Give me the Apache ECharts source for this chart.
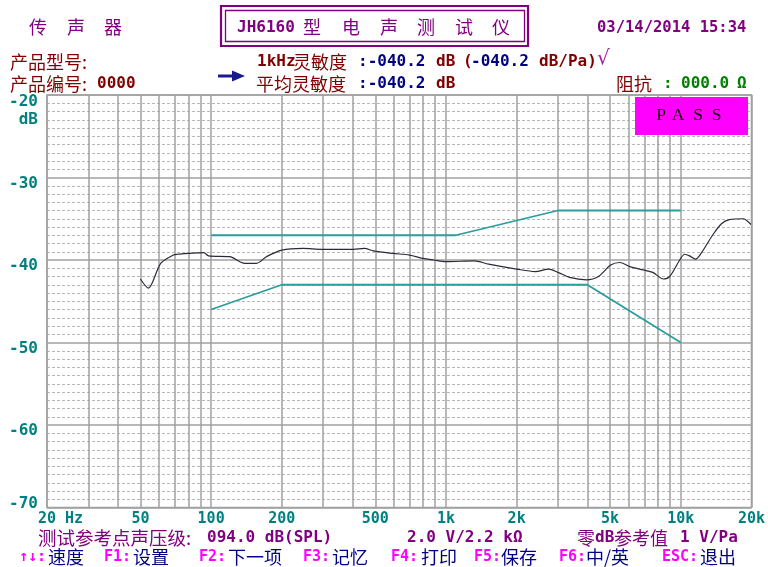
<!DOCTYPE html>
<html><head><meta charset="utf-8">
<script src="https://cdn.jsdelivr.net/npm/echarts@6/dist/echarts.min.js"></script>
<style>html,body{margin:0;padding:0;background:#fff}#c{width:768px;height:567px}</style>
</head><body><div id="c"></div>
<script>
// Measured response (Hz, dB)
const measFreq = [50, 54, 61, 69, 72, 80, 93, 97.5, 120, 139, 156, 172, 200, 246, 297, 331, 403, 450, 491, 594, 700, 796, 887, 1000, 1320, 1520, 2000, 2400, 2740, 3000, 3360, 3960, 4460, 5030, 5500, 6070, 6920, 7600, 8420, 8970, 9900, 10400, 10900, 11550, 12200, 13650, 14900, 16100, 18400, 19900];
const measDb = [-42.3, -43.4, -40.4, -39.4, -39.3, -39.2, -39.1, -39.5, -39.6, -40.4, -40.4, -39.6, -38.8, -38.6, -38.7, -38.7, -38.7, -38.6, -38.9, -39.2, -39.4, -39.8, -40.0, -40.2, -40.1, -40.5, -41.1, -41.4, -41.1, -41.5, -42.1, -42.4, -42.0, -40.6, -40.3, -40.8, -41.2, -41.5, -42.3, -42.0, -40.0, -39.3, -39.5, -39.9, -39.2, -37.0, -35.6, -35.1, -35.0, -35.7];
// Tolerance limits
const upperFreq = [100, 1100, 3000, 10000];
const upperDb = [-37, -37, -34, -34];
const lowerFreq = [100, 200, 4000, 10000];
const lowerDb = [-46, -43, -43, -50];
// Axes
const gridFreqs = [20,30,40,50,60,70,80,90,100,200,300,400,500,600,700,800,900,1000,2000,3000,4000,5000,6000,7000,8000,9000,10000,20000];
const xLabelVals = [20, 50, 100, 200, 500, 1000, 2000, 5000, 10000, 20000];
const xLabelText = ['20 Hz', '50', '100', '200', '500', '1k', '2k', '5k', '10k', '20k'];
const yLabelVals = [-70, -60, -50, -40, -30, -20];
const yLabelText = ['-70', '-60', '-50', '-40', '-30', '-20'];

const MONO = '"DejaVu Sans Mono", "Noto Sans CJK SC", monospace';
const CJK = '"Noto Sans CJK SC", "DejaVu Sans", sans-serif';
const PURPLE = '#800080', DRED = '#800000', NAVY = '#000080', GREEN = '#008000', TEAL = '#008080', MAG = '#ff00ff';
const B16 = 'bold 16px ' + MONO, B15 = 'bold 15px ' + MONO, C18 = '18px ' + CJK;

function txt(x, y, s, color, font, align) {
  return {type: 'text', x: x, y: y, z: 100, style: {text: s, fill: color, font: font, textAlign: align || 'left', textVerticalAlign: 'middle'}};
}

const g = [];
// Row 1
g.push(txt(29, 27.5, '传', PURPLE, C18), txt(67, 27.5, '声', PURPLE, C18), txt(104, 27.5, '器', PURPLE, C18));
g.push({type: 'rect', z: 100, shape: {x: 221, y: 6, width: 307, height: 40}, style: {fill: null, stroke: PURPLE, lineWidth: 2.2}});
g.push({type: 'rect', z: 100, shape: {x: 225.5, y: 10.5, width: 299, height: 31}, style: {fill: null, stroke: PURPLE, lineWidth: 1.3}});
g.push(txt(237, 27.5, 'JH6160', PURPLE, B16));
[['型', 303], ['电', 342], ['声', 380], ['测', 417], ['试', 455], ['仪', 492]].forEach(a => g.push(txt(a[1], 27.5, a[0], PURPLE, C18)));
g.push(txt(597, 27.5, '03/14/2014 15:34', PURPLE, 'bold 15.5px ' + MONO));
// Row 2
g.push(txt(10, 62, '产品型号:', DRED, C18));
g.push(txt(257, 62, '1kHz', DRED, B16), txt(293, 62, '灵敏度', DRED, C18));
g.push(txt(358, 62, ':-040.2', NAVY, B16), txt(436, 62, 'dB', DRED, B16));
g.push(txt(463, 62, '(', DRED, B16), txt(471, 62, '-040.2', NAVY, B16), txt(539, 62, 'dB/Pa)', DRED, B16));
g.push(txt(597, 59, '√', '#a020a0', '20px "DejaVu Sans"'));
// Row 3
g.push(txt(10, 84, '产品编号:', DRED, C18), txt(97, 84, '0000', DRED, B16));
g.push({type: 'rect', z: 100, shape: {x: 218, y: 74.5, width: 15, height: 3}, style: {fill: '#1a1a8a'}});
g.push({type: 'polygon', z: 100, shape: {points: [[232, 70.5], [245, 76], [232, 81.5]]}, style: {fill: '#1a1a8a'}});
g.push(txt(256, 84, '平均灵敏度', DRED, C18));
g.push(txt(358, 84, ':-040.2', NAVY, B16), txt(436, 84, 'dB', DRED, B16));
g.push(txt(616, 84, '阻抗', DRED, C18), txt(663, 84, ':', GREEN, B16), txt(681, 84, '000.0', GREEN, B16), txt(737, 84, 'Ω', GREEN, B16));
// PASS box
g.push({type: 'rect', z: 100, shape: {x: 635, y: 97, width: 113, height: 38}, style: {fill: MAG}});
[['P', 661], ['A', 678], ['S', 698], ['S', 716.5]].forEach(a => g.push(txt(a[1], 115, a[0], '#000', '17.5px "Liberation Serif"', 'center')));
// y unit
g.push(txt(38, 120, 'dB', TEAL, B16, 'right'));
// Bottom row 1
g.push(txt(38, 538, '测试参考点声压级:', PURPLE, '18.5px ' + CJK));
g.push(txt(207, 538, '094.0 dB(SPL)', PURPLE, B16));
g.push(txt(407, 538, '2.0 V/2.2 kΩ', PURPLE, B16));
g.push(txt(577, 538, '零', PURPLE, C18), txt(595, 538, 'dB', PURPLE, B16), txt(614, 538, '参考值', PURPLE, C18), txt(680, 538, '1 V/Pa', PURPLE, B16));
// Bottom row 2
[['↑↓:', 19, '速度', 48], ['F1:', 104, '设置', 133], ['F2:', 199, '下一项', 228], ['F3:', 303, '记忆', 332],
 ['F4:', 391, '打印', 421], ['F5:', 474, '保存', 501], ['F6:', 559, '中/英', 586], ['ESC:', 662, '退出', 700]].forEach(a => {
  g.push(txt(a[1], 557, a[0], MAG, B15), txt(a[3], 557, a[2], NAVY, C18));
});

const pairs = (xs, ys) => xs.map((x, i) => [x, ys[i]]);

const chart = echarts.init(document.getElementById('c'));
chart.setOption({
  animation: false,
  backgroundColor: '#fff',
  grid: {left: 47, top: 95, width: 705, height: 412.5, show: true, borderColor: '#a0a0a0', borderWidth: 1.5},
  xAxis: {
    type: 'log', logBase: 10, min: 20, max: 20000,
    axisLine: {show: false},
    axisTick: {show: false, customValues: gridFreqs},
    axisLabel: {
      customValues: xLabelVals,
      margin: 4,
      color: TEAL, fontFamily: MONO, fontWeight: 'bold', fontSize: 15,
      formatter: v => {
        const i = xLabelVals.findIndex(t => Math.abs(t - v) / t < 1e-6);
        if (i < 0) return '';
        return i === 0 ? '{f|' + xLabelText[i] + '}' : xLabelText[i];
      },
      rich: {f: {color: TEAL, fontFamily: MONO, fontWeight: 'bold', fontSize: 15, padding: [0, 0, 0, 27]}}
    },
    splitLine: {show: true, lineStyle: {color: '#a0a0a0', width: 1.5}},
    minorSplitLine: {show: false}
  },
  yAxis: {
    type: 'value', min: -70, max: -20, interval: 10,
    axisLine: {show: false}, axisTick: {show: false},
    axisLabel: {
      margin: 9,
      formatter: v => {
        const i = yLabelVals.indexOf(v);
        const s = i < 0 ? '' : yLabelText[i];
        if (v === -70) return '{b|' + s + '}';
        if (v === -20) return '{c|' + s + '}';
        return '{a|' + s + '}';
      },
      rich: {
        a: {color: TEAL, fontFamily: MONO, fontWeight: 'bold', fontSize: 16, padding: [12, 0, 0, 0]},
        b: {color: TEAL, fontFamily: MONO, fontWeight: 'bold', fontSize: 16, padding: [0, 0, 8, 0]},
        c: {color: TEAL, fontFamily: MONO, fontWeight: 'bold', fontSize: 16, padding: [14, 0, 0, 0]}
      }
    },
    splitLine: {lineStyle: {color: '#a0a0a0', width: 1.5}},
    minorTick: {show: false, splitNumber: 10},
    minorSplitLine: {show: true, lineStyle: {color: '#b8b8b8', width: 1, type: [3, 2]}}
  },
  series: [
    {name: 'upper', type: 'line', data: pairs(upperFreq, upperDb), symbol: 'none', lineStyle: {color: '#2a9d9d', width: 1.8}, z: 3},
    {name: 'lower', type: 'line', data: pairs(lowerFreq, lowerDb), symbol: 'none', lineStyle: {color: '#2a9d9d', width: 1.8}, z: 3},
    {name: 'meas', type: 'line', data: pairs(measFreq, measDb), symbol: 'none', smooth: 0.3, lineStyle: {color: '#2a2a3a', width: 1.2}, z: 4}
  ],
  graphic: g
});
</script></body></html>
